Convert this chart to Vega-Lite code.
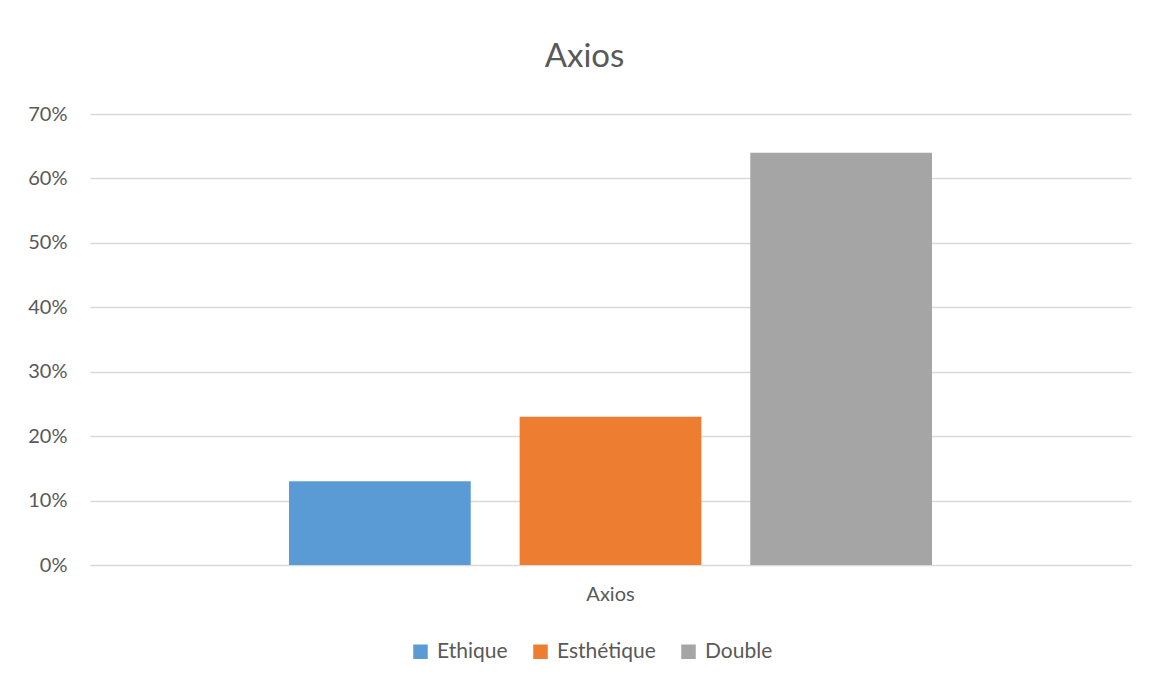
{
  "$schema": "https://vega.github.io/schema/vega-lite/v6.json",
  "autosize": {"type": "none"},
  "width": 1041,
  "height": 451,
  "padding": {"left": 90, "top": 114, "right": 29, "bottom": 112},
  "background": "white",
  "title": {
    "text": "Axios",
    "fontSize": 33,
    "font": "Lato",
    "fontWeight": "normal",
    "color": "#595959",
    "anchor": "middle",
    "dx": -26,
    "offset": 30
  },
  "data": {
    "values": [
      {"category": "Axios", "series": "Ethique", "value": 0.13},
      {"category": "Axios", "series": "Esthétique", "value": 0.23},
      {"category": "Axios", "series": "Double", "value": 0.64}
    ]
  },
  "mark": {"type": "bar"},
  "encoding": {
    "x": {
      "field": "category",
      "type": "nominal",
      "scale": {"paddingInner": 0, "paddingOuter": 0.3095},
      "axis": {
        "title": null,
        "labelAngle": 0,
        "ticks": false,
        "domainColor": "#D9D9D9",
        "domainWidth": 1,
        "labelFont": "Lato",
        "labelFontSize": 20,
        "labelColor": "#595959",
        "labelPadding": 19
      }
    },
    "xOffset": {
      "field": "series",
      "type": "nominal",
      "sort": ["Ethique", "Esthétique", "Double"],
      "scale": {"paddingInner": 0.212, "paddingOuter": 0}
    },
    "y": {
      "field": "value",
      "type": "quantitative",
      "scale": {"domain": [0, 0.7], "nice": false},
      "axis": {
        "title": null,
        "format": ".0%",
        "values": [0, 0.1, 0.2, 0.3, 0.4, 0.5, 0.6, 0.7],
        "ticks": false,
        "domain": false,
        "gridColor": "#D9D9D9",
        "gridWidth": 1.3,
        "labelFont": "Lato",
        "labelFontSize": 20,
        "labelColor": "#595959",
        "labelPadding": 23
      }
    },
    "color": {
      "field": "series",
      "type": "nominal",
      "sort": ["Ethique", "Esthétique", "Double"],
      "scale": {
        "domain": ["Ethique", "Esthétique", "Double"],
        "range": ["#5B9BD5", "#ED7D31", "#A5A5A5"]
      },
      "legend": {
        "title": null,
        "orient": "none",
        "direction": "horizontal",
        "legendX": 320,
        "legendY": 527,
        "symbolType": "square",
        "symbolSize": 210,
        "symbolStrokeWidth": 0,
        "labelFont": "Lato",
        "labelFontSize": 21,
        "labelColor": "#595959",
        "labelOffset": 6,
        "columnPadding": 22
      }
    }
  },
  "config": {
    "view": {"stroke": null}
  }
}
